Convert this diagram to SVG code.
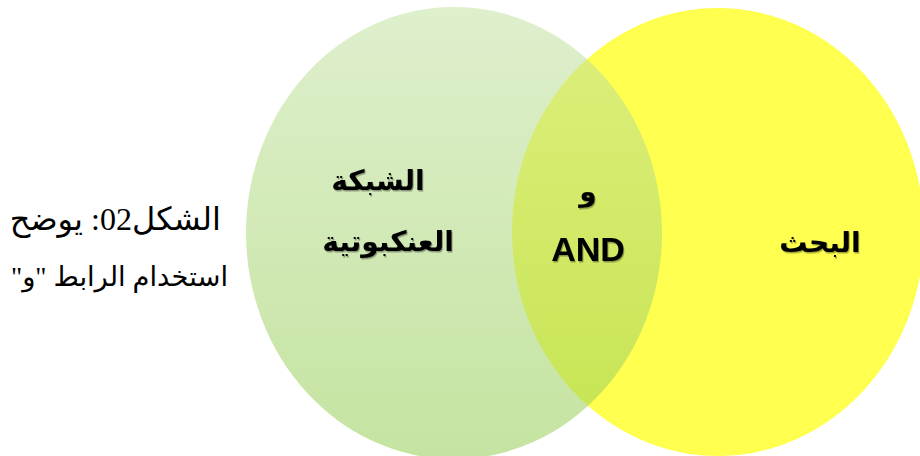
<svg xmlns="http://www.w3.org/2000/svg" width="920" height="456" viewBox="0 0 920 456">
<style>
.cap{font-family:"Liberation Serif","DejaVu Sans",serif;font-size:27.4px;fill:#000}
.lbl{font-family:"Liberation Sans","DejaVu Sans",sans-serif;font-weight:bold;font-size:28px;fill:#000;filter:url(#sh)}
</style>
<defs>
<linearGradient id="gg" x1="0" y1="0" x2="0" y2="1">
<stop offset="0" stop-color="rgb(195,226,163)"/>
<stop offset="1" stop-color="rgb(149,205,82)"/>
</linearGradient>
<filter id="sh" x="-10%" y="-10%" width="130%" height="140%">
<feDropShadow dx="1" dy="1.5" stdDeviation="0.6" flood-color="#000" flood-opacity="0.35"/>
</filter>
</defs>
<g id="connectors"/>
<g id="yellow">
<ellipse cx="718" cy="232" rx="206" ry="224" fill="#ffff4f"/>
</g>
<g id="green">
<ellipse cx="454" cy="233" rx="208" ry="226" fill="url(#gg)" fill-opacity="0.55"/>
</g>
<g id="caption">
<text class="cap" x="221" y="230" direction="rtl" text-anchor="start" style="font-size:32px">الشكل02: يوضح</text>
<text class="cap" x="228" y="286" direction="rtl" text-anchor="start">استخدام الرابط "و"</text>
</g>
<g id="label-web">
<text class="lbl" x="378" y="190" text-anchor="middle" direction="rtl">الشبكة</text>
<text class="lbl" x="388" y="251" text-anchor="middle" direction="rtl">العنكبوتية</text>
</g>
<g id="label-and">
<text class="lbl" x="588" y="201" text-anchor="middle" direction="rtl">و</text>
<text class="lbl" x="588" y="261" text-anchor="middle" style="font-size:34px">AND</text>
</g>
<g id="label-search">
<text class="lbl" x="820" y="252" text-anchor="middle" direction="rtl">البحث</text>
</g>
</svg>
